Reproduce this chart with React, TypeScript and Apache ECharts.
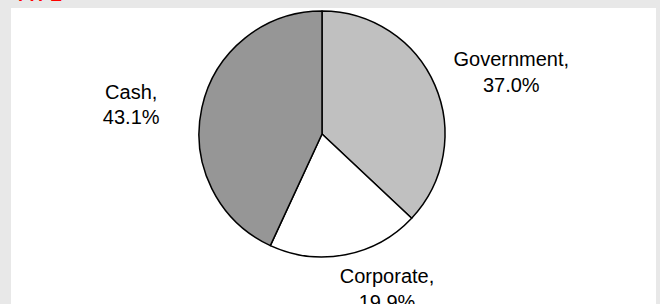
import React, { useEffect, useRef } from "react";
import * as echarts from "echarts";

const categories = ["Government", "Corporate", "Cash"];
const shares = [37.0, 19.9, 43.1];
const sliceColors = ["#c0c0c0", "#ffffff", "#969696"];
const labelLengths = [32, 34.5, 14];
const labelLengths2 = [42, 30, 52];
const labelLineHeights = [26, 26, 25];

export default function App() {
  const ref = useRef<HTMLDivElement>(null);
  useEffect(() => {
    const chart = echarts.init(ref.current!, null, { renderer: "svg" });
    chart.setOption({
      animation: false,
      backgroundColor: "#e8e8e8",
      graphic: [
        {
          type: "rect",
          z: -10,
          shape: { x: 11, y: 8, width: 645, height: 300 },
          style: { fill: "#ffffff" },
        },
        {
          type: "text",
          x: 15,
          y: 4,
          style: {
            text: "TYPE",
            fill: "#ff0000",
            fontFamily: "Liberation Sans",
            fontWeight: "bold",
            fontSize: 18,
            verticalAlign: "bottom",
          },
        },
      ],
      series: [
        {
          type: "pie",
          center: [322, 134],
          radius: 123,
          startAngle: 90,
          clockwise: true,
          avoidLabelOverlap: false,
          emphasis: { disabled: true },
          itemStyle: { borderColor: "#000000", borderWidth: 1.5 },
          label: {
            position: "outside",
            color: "#000000",
            fontFamily: "Liberation Sans",
            fontSize: 20,
            lineHeight: 25,
            formatter: (p: any) => `${p.name},\n${p.value.toFixed(1)}%`,
          },
          labelLine: { show: false },
          labelLayout: { align: "center" },
          data: categories.map((name, i) => ({
            name,
            value: shares[i],
            itemStyle: { color: sliceColors[i] },
            label: { lineHeight: labelLineHeights[i] },
            labelLine: { show: false, length: labelLengths[i], length2: labelLengths2[i] },
          })),
        },
      ],
    });
    return () => chart.dispose();
  }, []);
  return (
    <div
      ref={ref}
      style={{ position: "fixed", left: 0, top: 0, width: 660, height: 304 }}
    />
  );
}
